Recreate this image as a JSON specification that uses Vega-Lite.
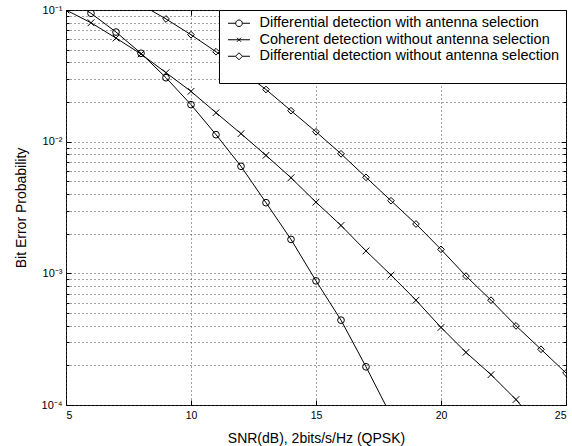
{
  "$schema": "https://vega.github.io/schema/vega-lite/v6.json",
  "autosize": {"type": "none"},
  "width": 500,
  "height": 395,
  "padding": {"left": 66, "top": 10, "right": 6, "bottom": 41},
  "background": "white",
  "config": {
    "view": {"stroke": "black", "strokeWidth": 1},
    "font": "Liberation Sans",
    "axis": {"labelFont": "Liberation Sans", "titleFont": "Liberation Sans", "labelColor": "black", "titleColor": "black", "titleFontWeight": "normal", "domainColor": "black", "tickColor": "black"}
  },
  "data": {"values": [
    {"snr": 5, "ber": 0.125, "series": "Differential detection with antenna selection"},
    {"snr": 6, "ber": 0.0944, "series": "Differential detection with antenna selection"},
    {"snr": 7, "ber": 0.068, "series": "Differential detection with antenna selection"},
    {"snr": 8, "ber": 0.0469, "series": "Differential detection with antenna selection"},
    {"snr": 9, "ber": 0.0306, "series": "Differential detection with antenna selection"},
    {"snr": 10, "ber": 0.0191, "series": "Differential detection with antenna selection"},
    {"snr": 11, "ber": 0.0113, "series": "Differential detection with antenna selection"},
    {"snr": 12, "ber": 0.0065, "series": "Differential detection with antenna selection"},
    {"snr": 13, "ber": 0.00344, "series": "Differential detection with antenna selection"},
    {"snr": 14, "ber": 0.00181, "series": "Differential detection with antenna selection"},
    {"snr": 15, "ber": 0.000877, "series": "Differential detection with antenna selection"},
    {"snr": 16, "ber": 0.000441, "series": "Differential detection with antenna selection"},
    {"snr": 17, "ber": 0.000195, "series": "Differential detection with antenna selection"},
    {"snr": 18, "ber": 0.000083, "series": "Differential detection with antenna selection"},
    {"snr": 5, "ber": 0.1, "series": "Coherent detection without antenna selection"},
    {"snr": 6, "ber": 0.080, "series": "Coherent detection without antenna selection"},
    {"snr": 7, "ber": 0.0612, "series": "Coherent detection without antenna selection"},
    {"snr": 8, "ber": 0.0463, "series": "Coherent detection without antenna selection"},
    {"snr": 9, "ber": 0.0334, "series": "Coherent detection without antenna selection"},
    {"snr": 10, "ber": 0.0241, "series": "Coherent detection without antenna selection"},
    {"snr": 11, "ber": 0.0166, "series": "Coherent detection without antenna selection"},
    {"snr": 12, "ber": 0.0115, "series": "Coherent detection without antenna selection"},
    {"snr": 13, "ber": 0.00787, "series": "Coherent detection without antenna selection"},
    {"snr": 14, "ber": 0.00532, "series": "Coherent detection without antenna selection"},
    {"snr": 15, "ber": 0.00347, "series": "Coherent detection without antenna selection"},
    {"snr": 16, "ber": 0.00231, "series": "Coherent detection without antenna selection"},
    {"snr": 17, "ber": 0.00148, "series": "Coherent detection without antenna selection"},
    {"snr": 18, "ber": 0.00097, "series": "Coherent detection without antenna selection"},
    {"snr": 19, "ber": 0.000625, "series": "Coherent detection without antenna selection"},
    {"snr": 20, "ber": 0.000388, "series": "Coherent detection without antenna selection"},
    {"snr": 21, "ber": 0.000251, "series": "Coherent detection without antenna selection"},
    {"snr": 22, "ber": 0.00017, "series": "Coherent detection without antenna selection"},
    {"snr": 23, "ber": 0.00011, "series": "Coherent detection without antenna selection"},
    {"snr": 24, "ber": 0.000065, "series": "Coherent detection without antenna selection"},
    {"snr": 8, "ber": 0.11, "series": "Differential detection without antenna selection"},
    {"snr": 9, "ber": 0.0855, "series": "Differential detection without antenna selection"},
    {"snr": 10, "ber": 0.0649, "series": "Differential detection without antenna selection"},
    {"snr": 11, "ber": 0.0482, "series": "Differential detection without antenna selection"},
    {"snr": 12, "ber": 0.0346, "series": "Differential detection without antenna selection"},
    {"snr": 13, "ber": 0.0249, "series": "Differential detection without antenna selection"},
    {"snr": 14, "ber": 0.01718, "series": "Differential detection without antenna selection"},
    {"snr": 15, "ber": 0.01189, "series": "Differential detection without antenna selection"},
    {"snr": 16, "ber": 0.00809, "series": "Differential detection without antenna selection"},
    {"snr": 17, "ber": 0.00536, "series": "Differential detection without antenna selection"},
    {"snr": 18, "ber": 0.00356, "series": "Differential detection without antenna selection"},
    {"snr": 19, "ber": 0.00237, "series": "Differential detection without antenna selection"},
    {"snr": 20, "ber": 0.00152, "series": "Differential detection without antenna selection"},
    {"snr": 21, "ber": 0.000953, "series": "Differential detection without antenna selection"},
    {"snr": 22, "ber": 0.000625, "series": "Differential detection without antenna selection"},
    {"snr": 23, "ber": 0.000399, "series": "Differential detection without antenna selection"},
    {"snr": 24, "ber": 0.000265, "series": "Differential detection without antenna selection"},
    {"snr": 25, "ber": 0.000175, "series": "Differential detection without antenna selection"}
  ]},
  "resolve": {"scale": {"shape": "independent"}},
  "layer": [
    {
      "mark": {"type": "line", "color": "black", "strokeWidth": 1, "clip": true},
      "encoding": {
        "x": {"field": "snr", "type": "quantitative",
          "scale": {"domain": [5, 25], "nice": false, "zero": false},
          "axis": {"orient": "bottom", "title": "SNR(dB), 2bits/s/Hz (QPSK)", "titleFontSize": 14, "titlePadding": 11,
            "values": [5, 10, 15, 20, 25], "labelFontSize": 10.5, "labelPadding": 10, "tickSize": -5,
            "grid": true, "gridDash": [1, 3], "gridColor": "#444", "gridOpacity": 1, "domain": false}},
        "y": {"field": "ber", "type": "quantitative",
          "scale": {"type": "log", "domain": [0.0001, 0.1], "nice": false},
          "axis": {"orient": "left", "title": "Bit Error Probability", "titleFontSize": 14, "titlePadding": 13,
            "values": [0.0001, 0.0002, 0.0003, 0.0004, 0.0005, 0.0006, 0.0007, 0.0008, 0.0009, 0.001, 0.002, 0.003, 0.004, 0.005, 0.006, 0.007, 0.008, 0.009, 0.01, 0.02, 0.03, 0.04, 0.05, 0.06, 0.07, 0.08, 0.09, 0.1],
            "labelExpr": "abs(log(datum.value)/LN10 - round(log(datum.value)/LN10)) < 0.000001 ? '10' + ['⁻⁴','⁻³','⁻²','⁻¹'][round(log(datum.value)/LN10)+4] : ''",
            "labelFontSize": 11, "labelPadding": 9,
            "tickSize": {"condition": {"test": "abs(log(datum.value)/LN10 - round(log(datum.value)/LN10)) < 0.000001", "value": -5}, "value": -3},
            "grid": true, "gridDash": [1, 3], "gridColor": "#444", "gridOpacity": 1, "domain": false}},
        "detail": {"field": "series"}
      }
    },
    {
      "mark": {"type": "point", "filled": false, "stroke": "black", "strokeWidth": 1, "clip": true, "opacity": 1},
      "encoding": {
        "x": {"field": "snr", "type": "quantitative",
          "axis": {"orient": "top", "title": null, "labels": false, "values": [5, 10, 15, 20, 25], "tickSize": -5, "grid": false, "domain": false}},
        "y": {"field": "ber", "type": "quantitative",
          "axis": {"orient": "right", "title": null, "labels": false, "grid": false, "domain": false,
            "values": [0.0001, 0.0002, 0.0003, 0.0004, 0.0005, 0.0006, 0.0007, 0.0008, 0.0009, 0.001, 0.002, 0.003, 0.004, 0.005, 0.006, 0.007, 0.008, 0.009, 0.01, 0.02, 0.03, 0.04, 0.05, 0.06, 0.07, 0.08, 0.09, 0.1],
            "tickSize": {"condition": {"test": "abs(log(datum.value)/LN10 - round(log(datum.value)/LN10)) < 0.000001", "value": -5}, "value": -3}}},
        "shape": {"field": "series", "type": "nominal",
          "scale": {"domain": ["Differential detection with antenna selection", "Coherent detection without antenna selection", "Differential detection without antenna selection"],
            "range": ["circle", "M-1,-1L1,1M1,-1L-1,1", "diamond"]},
          "legend": null},
        "size": {"value": 45}
      }
    },
    {
      "transform": [{"filter": "datum.snr > 1000"}],
      "mark": {"type": "point", "filled": false, "stroke": "black", "strokeWidth": 1},
      "encoding": {
        "x": {"field": "snr", "type": "quantitative", "axis": null},
        "y": {"field": "ber", "type": "quantitative", "axis": null},
        "shape": {"field": "series", "type": "nominal",
          "scale": {"domain": ["Differential detection with antenna selection", "Coherent detection without antenna selection", "Differential detection without antenna selection"],
            "range": ["M-0.85,0H0.69M2.01,0H3.55M2.01,0A0.66,0.66 0 1,1 0.69,0A0.66,0.66 0 1,1 2.01,0", "M-0.85,0H3.55M0.95,-0.4L1.75,0.4M1.75,-0.4L0.95,0.4", "M-0.85,0H0.65M2.05,0H3.55M0.65,0L1.35,-0.7L2.05,0L1.35,0.7Z"]},
          "legend": {"title": " ", "titleOrient": "bottom", "titleFontSize": 10, "titlePadding": 4,
            "orient": "top-right", "offset": 0, "strokeColor": "black", "fillColor": "white", "padding": 6,
            "labelFontSize": 14.5, "labelFont": "Liberation Sans", "labelColor": "black", "labelOffset": 20, "labelLimit": 500,
            "labelExpr": "datum.label + '\u00a0\u00a0\u00a0\u00a0\u00a0\u00a0\u00a0\u00a0'",
            "symbolSize": 100, "symbolStrokeColor": "black", "symbolStrokeWidth": 1, "symbolFillColor": "transparent", "symbolOpacity": 1, "rowPadding": 1.5}
        }
      }
    }
  ]
}
